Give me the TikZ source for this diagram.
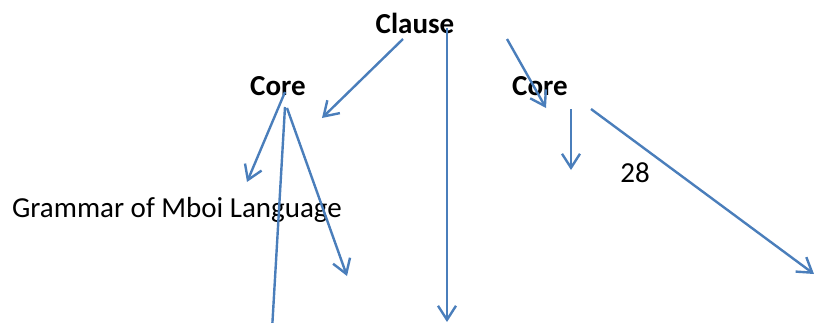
\documentclass[tikz,border=0pt]{standalone}
\usepackage{fontspec}
\setmainfont{Carlito}
\usetikzlibrary{arrows.meta,positioning}
\definecolor{linkblue}{RGB}{74,126,187}
\begin{document}
\begin{tikzpicture}
[x=1pt,y=-1pt,>={Straight Barb[length=14pt,width=18pt,line width=2.4pt]},
word/.style = {inner sep = 0pt, font = \fontsize{29}{34}\selectfont},
head/.style = {word, font = \fontsize{29}{34}\selectfont\bfseries},
link/.style = {draw = linkblue, line width = 2.4pt},]
\useasboundingbox (0,0) rectangle (814,322);
\node (clause) at (415,23)[head] {Clause};
\node (coreL) at (278,86)[head] {Core};
\node (coreR) at (540,86)[head] {Core};
\node (num) at (635,173)[word] {28};
\node (title) at (177,210)[word] {Grammar of Mboi Language};
\coordinate (cA) at (403,39);
\coordinate (cB) at (447,28);
\coordinate (cC) at (507,39);
\coordinate (tA) at (322,118);
\coordinate (tB) at (447,322);
\coordinate (tC) at (546,108);
\coordinate (lA) at (285,92);
\coordinate (lB) at (285,107);
\coordinate (lC) at (287,108);
\coordinate (dA) at (247,182);
\coordinate (dB) at (272,330);
\coordinate (dC) at (347,276);
\coordinate (rA) at (571,109);
\coordinate (rB) at (591,109);
\coordinate (eA) at (571,170);
\coordinate (eB) at (814,274);
\draw [link,->] (cA)--(tA);
\draw [link,->] (cB)--(tB);
\draw [link,->] (cC)--(tC);
\draw [link,->] (lA)--(dA);
\draw [link] (lB)--(dB);
\draw [link,->] (lC)--(dC);
\draw [link,->] (rA)--(eA);
\draw [link,->] (rB)--(eB);
\end{tikzpicture}
\end{document}
